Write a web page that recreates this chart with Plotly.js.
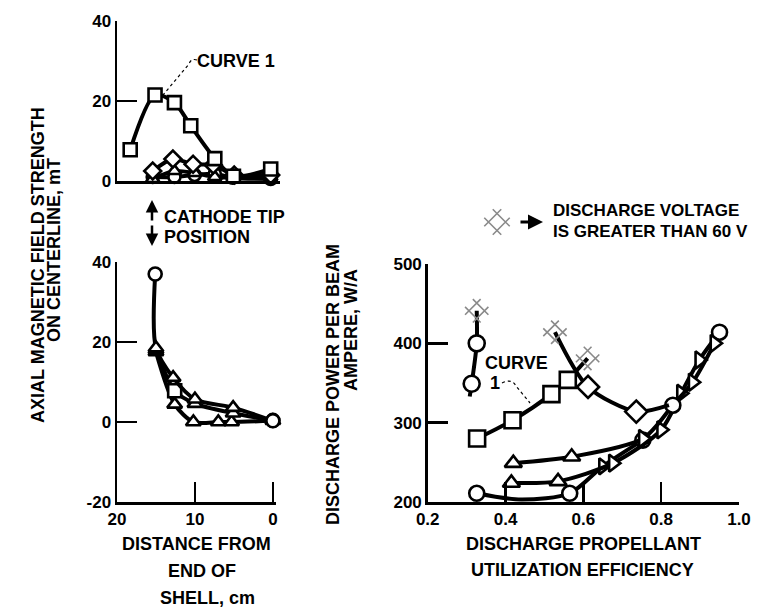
<!DOCTYPE html>
<html><head><meta charset="utf-8">
<script src="https://cdn.plot.ly/plotly-3.0.1.min.js"></script>
<style>html,body{margin:0;padding:0;background:#fff}#c{width:757px;height:608px}</style>
</head><body><div id="c"></div>
<script>
// ---- Top-left: axial magnetic field vs distance (upper panel) ----
const tlDistSq = [18.3, 15.1, 12.6, 10.5, 7.4, 5.0, 0.2];
const tlFieldSq = [7.8, 21.5, 19.6, 13.8, 5.6, 1.2, 3.0];
const tlDistDm = [15.4, 12.8, 10.2, 7.6, 4.9, 0.2];
const tlFieldDm = [2.5, 5.5, 4.2, 4.0, 1.5, 1.5];
const tlDistCi = [15.4, 12.6, 10.0, 7.4, 5.1, 0.2];
const tlFieldCi = [1.0, 1.0, 1.5, 1.8, 0.8, 0.5];
const tlDistTr = [15.4, 12.6, 10.0, 7.4, 0.2];
const tlFieldTr = [0.5, 2.5, 2.0, 1.0, 1.0];

// ---- Bottom-left: field vs distance (lower panel) ----
const blDistA = [15.1, 15.0, 12.8, 10.0, 5.1, 0.0];
const blFieldA = [37, 18.5, 11.1, 5.7, 3.6, 0.3];
const blDistB = [15.0, 12.6, 10.2, 7.0, 5.3, 0.0];
const blFieldB = [17.5, 4.4, 0.0, 0.0, 0.0, 0.3];
const blDistC = [15.0, 12.6, 10.0, 5.1, 0.0];
const blFieldC = [18.0, 7.8, 4.6, 2.2, 0.4];

// ---- Right: discharge power per beam ampere vs utilization ----
const effSq = [0.327, 0.418, 0.518, 0.560, 0.611];
const powSq = [280, 303, 336, 354, 381];
const effDm = [0.527, 0.612, 0.736, 0.82];
const powDm = [414, 345, 314, 322];
const effCi = [0.326, 0.326, 0.313, 0.308];
const powCi = [441, 400, 349, 333];
const effTu = [0.42, 0.57, 0.753, 0.83, 0.881, 0.937];
const powTu = [249, 257, 280, 322, 351, 400];
const effTl = [0.415, 0.535, 0.676, 0.80, 0.851, 0.898, 0.95];
const powTl = [224, 226, 249, 291, 337, 379, 414];
const effDd = [0.326, 0.44, 0.565, 0.65, 0.753];
const powDd = [211, 203, 211, 245, 278];

// tick labels
const tlYTicks = [0, 20, 40];
const blYTicks = [-20, 0, 20, 40];
const blXTicks = [20, 10, 0];
const blXText = ['20', '10', '0'];
const blYText = ['-20', '0', '20', '40'];
const rYTicks = [200, 300, 400, 500];
const rXTicks = [0.2, 0.4, 0.6, 0.8, 1.0];
const rXText = ['0.2', '0.4', '0.6', '0.8', '1.0'];

const W = 757, H = 608;
const px = x => x / W, py = y => 1 - y / H;
const FONT = 'Liberation Sans, Arial, sans-serif';
const K = '#000', WH = '#fff';
const HATCH = '#8a8a8a';

function styleMarker(syms, sizes) {
  const isH = syms.map(s => s === 'hash-open');
  return {
    symbol: syms, size: sizes, opacity: 1,
    angle: isH.map(h => h ? 45 : 0),
    color: isH.map(h => h ? HATCH : WH),
    line: {width: isH.map(h => h ? 1.6 : 2.6), color: isH.map(h => h ? HATCH : K)}
  };
}
function series(x, y, xa, ya, syms, sizes) {
  const n = x.length;
  if (!Array.isArray(syms)) syms = Array(n).fill(syms);
  if (!Array.isArray(sizes)) sizes = Array(n).fill(sizes);
  return {
    x: x, y: y, xaxis: xa, yaxis: ya, type: 'scatter', mode: 'lines+markers',
    line: {color: K, width: 4, shape: 'spline', smoothing: 0.8},
    marker: styleMarker(syms, sizes),
    cliponaxis: false, showlegend: false, hoverinfo: 'skip'
  };
}

const traces = [
  // top-left
  series(tlDistCi, tlFieldCi, 'x', 'y', 'circle', 12),
  series(tlDistTr, tlFieldTr, 'x', 'y', 'triangle-up', 12),
  series(tlDistDm, tlFieldDm, 'x', 'y', 'diamond', 13),
  series(tlDistSq, tlFieldSq, 'x', 'y', 'square', 13),
  // bottom-left
  series(blDistB, blFieldB, 'x2', 'y2', 'triangle-up', 13),
  series(blDistC, blFieldC, 'x2', 'y2', ['triangle-up','square','triangle-up','triangle-up','circle'], 13),
  series(blDistA, blFieldA, 'x2', 'y2', ['circle','triangle-up','triangle-up','triangle-up','triangle-up','circle'], 13),
  // right
  series(effDd, powDd, 'x3', 'y3', ['circle','circle','circle','triangle-right','circle'], [15,0,15,14,15]),
  series(effTl, powTl, 'x3', 'y3', ['triangle-up','triangle-up','triangle-right','triangle-right','triangle-right','triangle-right','circle'], 15),
  series(effTu, powTu, 'x3', 'y3', ['triangle-up','triangle-up','triangle-right','circle','triangle-right','triangle-right'], 15),
  series(effSq, powSq, 'x3', 'y3', ['square','square','square','square','hash-open'], [16,16,16,16,22]),
  series(effDm, powDm, 'x3', 'y3', ['hash-open','diamond','diamond','diamond'], [22,17,17,0]),
  series(effCi, powCi, 'x3', 'y3', ['hash-open','circle','circle','circle'], [22,16,16,0]),
  // legend key (hatched symbol) on an overlay pixel axis
  {x: [497], y: [222], xaxis: 'x4', yaxis: 'y4', type: 'scatter', mode: 'markers',
   marker: {symbol: 'hash-open', angle: 45, size: 24, color: HATCH, line: {width: 1.6, color: HATCH}},
   cliponaxis: false, showlegend: false, hoverinfo: 'skip'}
];

const tickFont = {family: FONT, size: 17, color: K, weight: 'bold'};
const axBase = {showline: true, linecolor: K, linewidth: 2.5, showgrid: false, zeroline: false,
  ticks: 'inside', ticklen: 20, tickwidth: 2.5, tickcolor: K, tickfont: tickFont, fixedrange: true};

const annFont = {family: FONT, size: 18, color: K, weight: 'bold'};
function txt(text, x, y, extra) {
  return Object.assign({text: text, x: px(x), y: py(y), xref: 'paper', yref: 'paper', showarrow: false,
    xanchor: 'center', yanchor: 'middle', font: annFont}, extra || {});
}
const noteFont = {family: FONT, size: 17, color: K, weight: 'bold'};

const layout = {
  width: W, height: H, margin: {l: 0, r: 0, t: 0, b: 0},
  paper_bgcolor: '#fff', plot_bgcolor: 'rgba(0,0,0,0)', showlegend: false,
  xaxis: Object.assign({}, axBase, {domain: [px(117), px(280)], range: [20, -1], anchor: 'y', ticks: '', showticklabels: false}),
  yaxis: Object.assign({}, axBase, {domain: [py(181), py(21)], range: [0, 40], anchor: 'x', tickvals: tlYTicks}),
  xaxis2: Object.assign({}, axBase, {domain: [px(117), px(276)], range: [20, -0.4], anchor: 'y2', tickvals: blXTicks, ticktext: blXText}),
  yaxis2: Object.assign({}, axBase, {domain: [py(502), py(262)], range: [-20, 40], anchor: 'x2', tickvals: blYTicks, ticktext: blYText}),
  xaxis3: Object.assign({}, axBase, {domain: [px(427.7), px(739)], range: [0.2, 1.0], anchor: 'y3', tickvals: rXTicks, ticktext: rXText}),
  yaxis3: Object.assign({}, axBase, {domain: [py(502), py(264)], range: [200, 500], anchor: 'x3', tickvals: rYTicks}),
  xaxis4: {domain: [0, 1], range: [0, W], anchor: 'y4', visible: false, fixedrange: true},
  yaxis4: {domain: [0, 1], range: [H, 0], anchor: 'x4', visible: false, fixedrange: true},
  annotations: [
    txt('AXIAL MAGNETIC FIELD STRENGTH', 38, 265, {textangle: -90}),
    txt('ON CENTERLINE, mT', 54, 250, {textangle: -90}),
    txt('DISTANCE FROM', 196, 544),
    txt('END OF', 202, 571),
    txt('SHELL, cm', 207, 598),
    txt('DISCHARGE POWER PER BEAM', 333, 385, {textangle: -90}),
    txt('AMPERE, W/A', 351, 330, {textangle: -90}),
    txt('DISCHARGE PROPELLANT', 583, 544),
    txt('UTILIZATION EFFICIENCY', 582, 570),
    txt('CURVE 1', 236, 61),
    txt('CURVE', 516, 363),
    txt('1', 495, 383),
    txt('CATHODE TIP', 162, 217, {xanchor: 'left'}),
    txt('POSITION', 162, 237, {xanchor: 'left'}),
    txt('DISCHARGE VOLTAGE', 551, 210, {xanchor: 'left', font: noteFont}),
    txt('IS GREATER THAN 60 V', 551, 232, {xanchor: 'left', font: noteFont}),
    // arrows
    {x: px(543), y: py(222), xref: 'paper', yref: 'paper', ax: -24, ay: 0, showarrow: true, text: '',
     arrowhead: 2, arrowsize: 1, arrowwidth: 3, arrowcolor: K},
    {x: px(152), y: py(200), xref: 'paper', yref: 'paper', ax: 0, ay: 22, showarrow: true, text: '',
     arrowhead: 2, arrowsize: 1, arrowwidth: 2.5, arrowcolor: K},
    {x: px(152), y: py(246), xref: 'paper', yref: 'paper', ax: 0, ay: -22, showarrow: true, text: '',
     arrowhead: 2, arrowsize: 1, arrowwidth: 2.5, arrowcolor: K}
  ],
  shapes: [
    {type: 'path', xref: 'paper', yref: 'paper', line: {color: K, width: 1.2, dash: 'dot'},
     path: `M ${px(197)} ${py(60)} Q ${px(191)} ${py(58)} ${px(189)} ${py(64)} L ${px(163)} ${py(95)}`},
    {type: 'path', xref: 'paper', yref: 'paper', line: {color: K, width: 1.2, dash: 'dot'},
     path: `M ${px(502)} ${py(383)} Q ${px(512)} ${py(378)} ${px(516)} ${py(386)} L ${px(530)} ${py(403)}`}
  ]
};

Plotly.newPlot('c', traces, layout, {staticPlot: true, displayModeBar: false});
</script></body></html>
